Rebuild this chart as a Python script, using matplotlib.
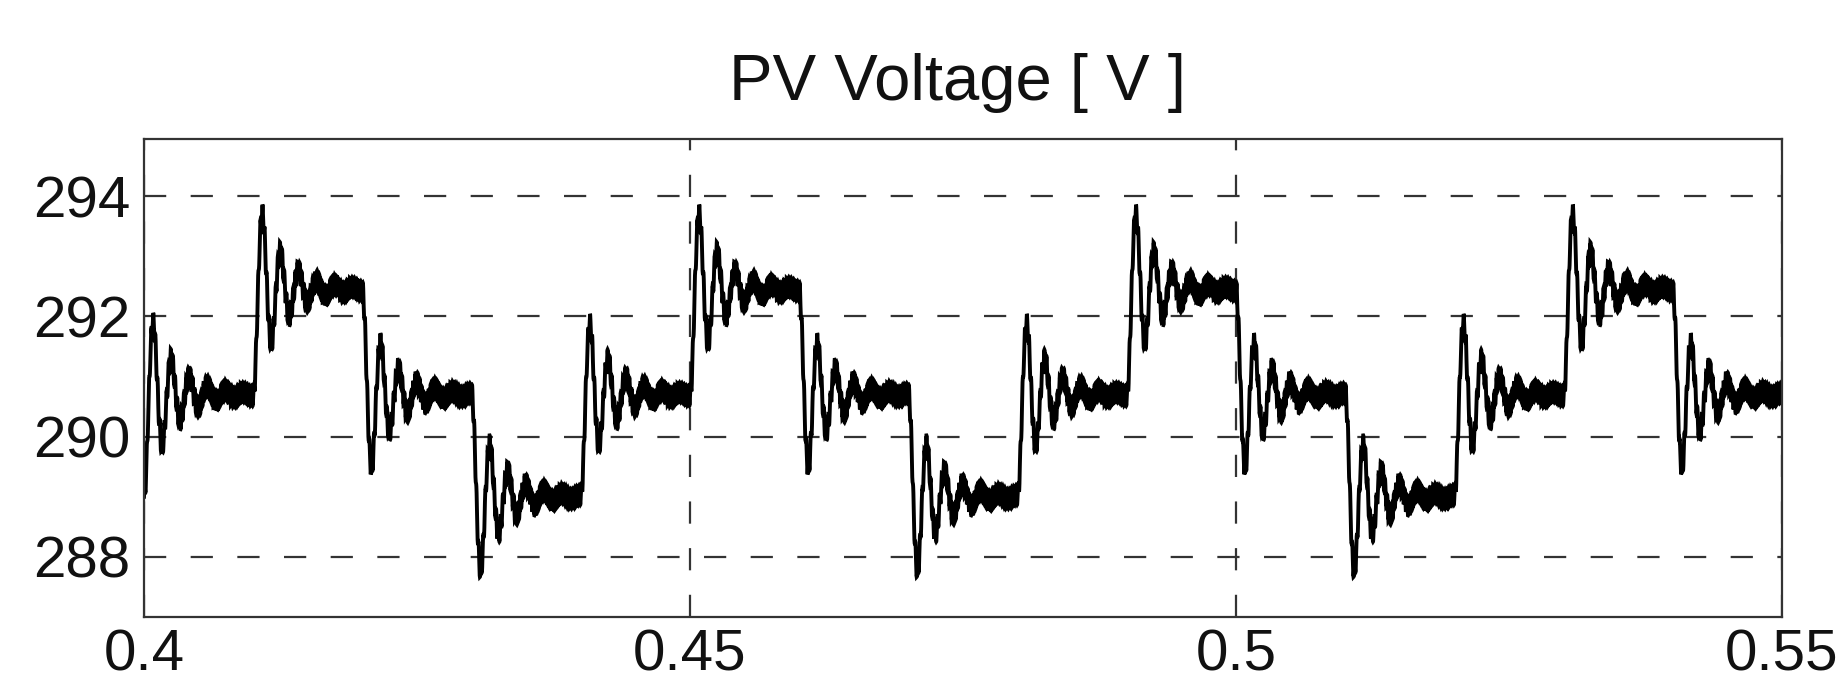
import numpy as np
import matplotlib
matplotlib.use("Agg")
import matplotlib.pyplot as plt

# ---- data ----
step_times = [0.40, 0.41, 0.42, 0.43, 0.44, 0.45, 0.46, 0.47, 0.48, 0.49,
              0.50, 0.51, 0.52, 0.53, 0.54]
step_levels = [290.7, 292.45, 290.7, 289.0, 290.7, 292.45, 290.7, 289.0,
               290.7, 292.45, 290.7, 289.0, 290.7, 292.45, 290.7]
initial_level = 289.0
ring_freq_hz = 605.0       # ringing frequency after each step
damping_ratio = 0.11       # damping of the ringing
ripple_freq_hz = 5000.0    # switching ripple (thick band)
ripple_amp = 0.16

x_ticks = [0.4, 0.45, 0.5, 0.55]
x_tick_labels = ["0.4", "0.45", "0.5", "0.55"]
y_ticks = [288, 290, 292, 294]
y_tick_labels = ["288", "290", "292", "294"]
title = "PV Voltage [ V ]"

# ---- build the waveform from the step list (2nd-order step response) ----
t = np.arange(0.40, 0.55 + 1e-9, 2e-6)
wd = 2 * np.pi * ring_freq_hz
z = damping_ratio
wn = wd / np.sqrt(1 - z ** 2)
v = np.full_like(t, initial_level)
prev = initial_level
for ts, lvl in zip(step_times, step_levels):
    tau = t - ts
    m = tau >= 0
    tt = tau[m]
    s = 1 - np.exp(-z * wn * tt) * (np.cos(wd * tt) + z / np.sqrt(1 - z ** 2) * np.sin(wd * tt))
    v[m] += (lvl - prev) * s
    prev = lvl
v = v + ripple_amp * np.sin(2 * np.pi * ripple_freq_hz * t)

# ---- figure ----
plt.rcParams['font.family'] = ['Liberation Sans', 'DejaVu Sans']
fig = plt.figure(figsize=(18.48, 6.8), dpi=100)
ax = fig.add_axes([144 / 1848, 63 / 680, 1638 / 1848, 478 / 680])

ax.plot(t, v, color='black', linewidth=2.8, solid_joinstyle='miter')

ax.set_xlim(0.40, 0.55)
ax.set_ylim(287.0, 294.95)
ax.set_xticks(x_ticks)
ax.set_xticklabels(x_tick_labels)
ax.set_yticks(y_ticks)
ax.set_yticklabels(y_tick_labels)
ax.tick_params(axis='both', length=0, labelsize=42, colors='#111111')
ax.tick_params(axis='x', pad=8)
ax.tick_params(axis='y', pad=10)

ax.grid(True, linestyle=(0, (10, 11)), color='#333333', linewidth=1.6)
ax.set_axisbelow(True)
for sp in ax.spines.values():
    sp.set_color('#333333')
    sp.set_linewidth(1.6)

fig.text(957 / 1848, (680 - 100) / 680, title, ha='center', va='baseline',
         fontsize=47, color='#111111')

fig.savefig("out.png", dpi=100, facecolor='white')
